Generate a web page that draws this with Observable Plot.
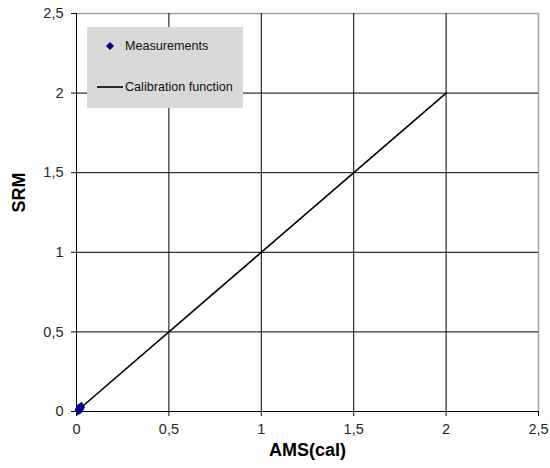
<!DOCTYPE html>
<html>
<head>
<meta charset="utf-8">
<script src="https://cdn.jsdelivr.net/npm/d3@7"></script>
<script src="https://cdn.jsdelivr.net/npm/@observablehq/plot@0.6"></script>
<style>
  body { margin: 0; background: #fff; font-family: "Liberation Sans", Arial, sans-serif; }
  #wrap { position: relative; width: 550px; height: 468px; }
  #legend { position: absolute; left: 87px; top: 27px; width: 156px; height: 81px; background: #d9d9d9; font-size: 12.6px; color: #111; }
  #legend .row { position: absolute; left: 0; display: flex; align-items: center; }
  #legend svg { display: block; }
</style>
</head>
<body>
<div id="wrap"></div>
<script>
// Data
const measX = [0.008, 0.012, 0.018, 0.022, 0.028];
const measY = [0.010, 0.014, 0.017, 0.022, 0.026];
const calX = [0, 2];
const calY = [0, 2];
const ticks = [0, 0.5, 1, 1.5, 2, 2.5];
const gridVals = [0.5, 1, 1.5, 2];
const borderVals = [2.5];
const seriesNames = ["Measurements", "Calibration function"];
const xTitle = "AMS(cal)";
const yTitle = "SRM";

const meas = measX.map((x, i) => ({x, y: measY[i]}));
const cal = calX.map((x, i) => ({x, y: calY[i]}));
const fmt = d => String(d).replace(".", ",");

const chart = Plot.plot({
  width: 550,
  height: 468,
  marginLeft: 76,
  marginRight: 12,
  marginTop: 13,
  marginBottom: 57,
  style: { fontFamily: "Liberation Sans, Arial, sans-serif", fontSize: "14.5px", color: "#262626", background: "#fff" },
  x: { domain: [0, 2.5] },
  y: { domain: [0, 2.5] },
  marks: [
    Plot.ruleX(borderVals, { stroke: "#a0a0a0", strokeWidth: 1.5 }),
    Plot.ruleY(borderVals, { stroke: "#a0a0a0", strokeWidth: 1.5 }),
    Plot.ruleX(gridVals, { stroke: "#000", strokeWidth: 1 }),
    Plot.ruleY(gridVals, { stroke: "#000", strokeWidth: 1 }),
    Plot.ruleX([0], { stroke: "#000" }),
    Plot.ruleY([0], { stroke: "#000" }),
    Plot.axisX({ ticks, tickFormat: fmt, tickSize: 5, tickPadding: 7, label: null, stroke: "#000" }),
    Plot.axisY({ ticks, tickFormat: fmt, tickSize: 5, tickPadding: 8, label: null, stroke: "#000" }),
    Plot.line(cal, { x: "x", y: "y", stroke: "#000", strokeWidth: 1.6 }),
    Plot.dot(meas, { x: "x", y: "y", symbol: "diamond", fill: "#000080", r: 3.5 }),
    Plot.text([xTitle], { frameAnchor: "bottom", dy: 44, fontWeight: "bold", fontSize: 18, fill: "#000" }),
    Plot.text([yTitle], { frameAnchor: "left", dx: -57, rotate: -90, fontWeight: "bold", fontSize: 18, fill: "#000" })
  ]
});
const wrap = document.getElementById("wrap");
wrap.appendChild(chart);

const legend = document.createElement("div");
legend.id = "legend";
legend.innerHTML = `
  <div class="row" style="top:12px;left:18px;">
    <svg width="10" height="10"><path d="M5,1 L9,5 L5,9 L1,5 Z" fill="#000080"/></svg>
    <span style="margin-left:10px">${seriesNames[0]}</span>
  </div>
  <div class="row" style="top:53px;left:10px;">
    <svg width="26" height="10"><line x1="0" y1="5" x2="26" y2="5" stroke="#000" stroke-width="1.6"/></svg>
    <span style="margin-left:2px">${seriesNames[1]}</span>
  </div>`;
wrap.appendChild(legend);
</script>
</body>
</html>
